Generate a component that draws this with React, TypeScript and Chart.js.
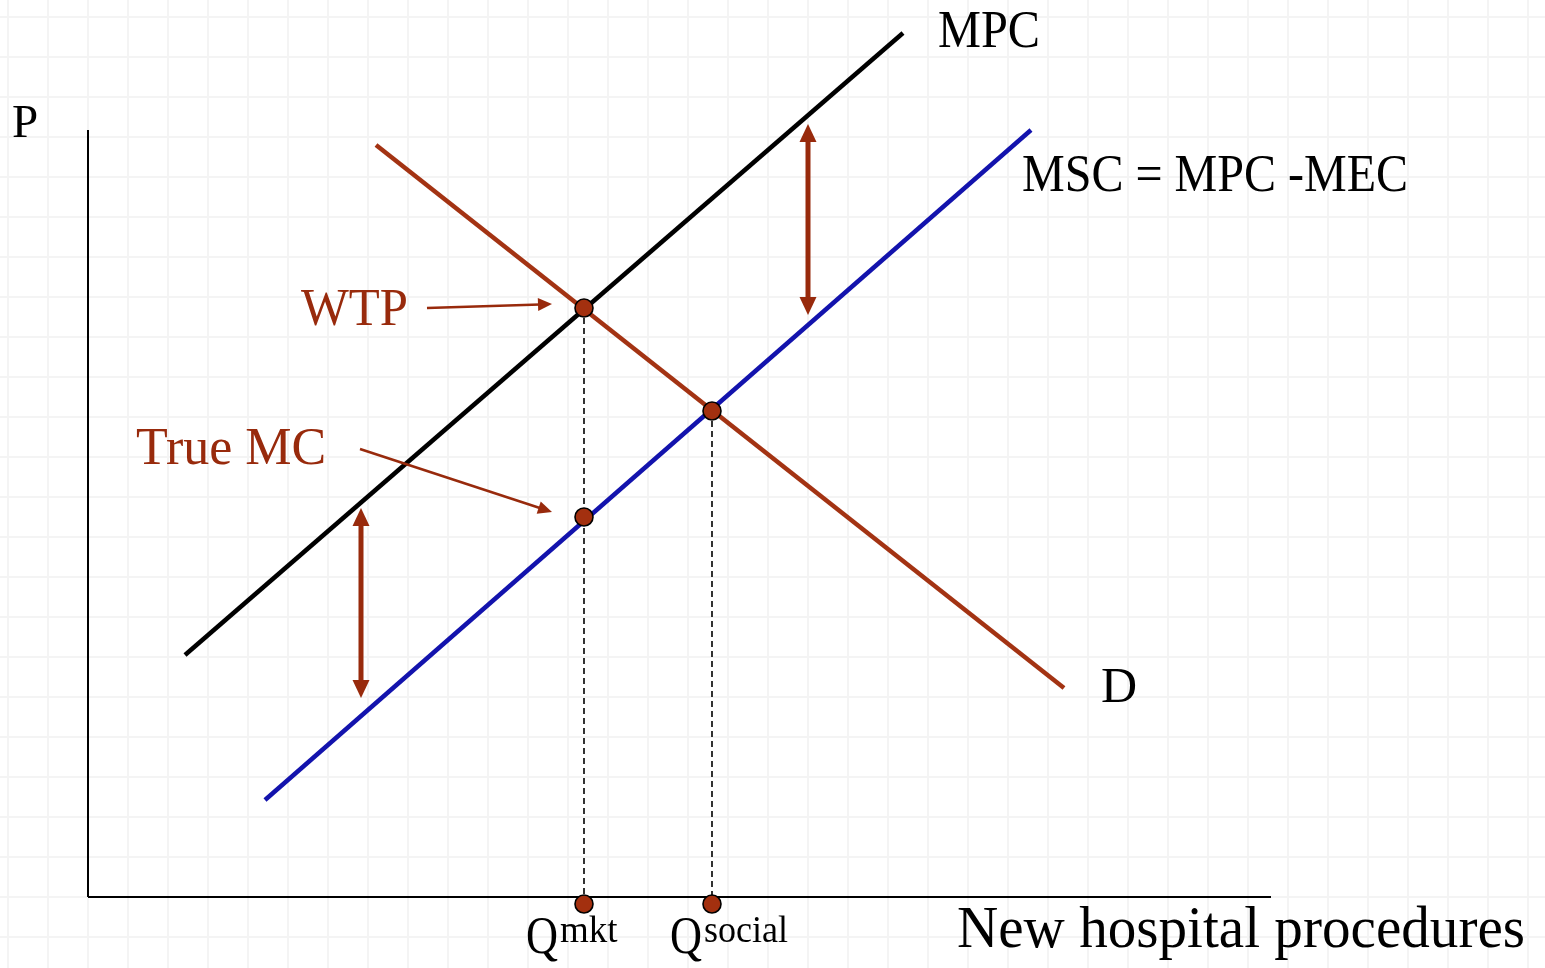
import React, { useEffect, useRef } from "react";
import { Chart, registerables } from "chart.js";

Chart.register(...registerables);

// ---- Data (grid units; origin at the axes' corner) ----
const mpcX = [2.425, 20.375];
const mpcY = [6.05, 21.6];
const mscX = [4.425, 23.575];
const mscY = [2.425, 19.175];
const demandX = [7.2, 24.4];
const demandY = [18.8, 5.225];

const Q_MKT = 12.4;
const Q_SOCIAL = 15.6;
const P_WTP = 14.725;
const P_SOCIAL = 12.15;
const P_TRUE_MC = 9.5;

const axisXMax = 29.575;
const axisYMax = 19.175;

// double-headed gap arrows: [x, yTop, yBottom]
const gapArrowLeft = [6.825, 9.725, 4.975];
const gapArrowRight = [18.0, 19.325, 14.55];

// pointer arrows: [x0, y0, x1, y1]
const wtpPointer = [8.475, 14.725, 11.6, 14.825];
const trueMcPointer = [6.8, 11.2, 11.6, 9.625];

const BROWN_LINE = "#A33313";
const BROWN = "#982A0C";
const BLUE = "#1313AD";
const FONT = "'Liberation Serif', 'Times New Roman', serif";

type Label = {
  text: string;
  x: number;
  y: number;
  size: number;
  color: string;
  maxWidth?: number;
};

const labels: Label[] = [
  { text: "P", x: -1.9, y: 19.0, size: 47, color: "#000" },
  { text: "MPC", x: 21.25, y: 21.25, size: 52, color: "#000", maxWidth: 102 },
  { text: "MSC = MPC -MEC", x: 23.35, y: 17.65, size: 52, color: "#000", maxWidth: 386 },
  { text: "WTP", x: 5.325, y: 14.3, size: 52, color: BROWN, maxWidth: 107 },
  { text: "True MC", x: 1.2, y: 10.825, size: 52, color: BROWN, maxWidth: 191 },
  { text: "D", x: 25.325, y: 4.875, size: 50, color: "#000" },
  { text: "Q", x: 10.95, y: -1.4, size: 52, color: "#000", maxWidth: 32 },
  { text: "mkt", x: 11.8, y: -1.125, size: 37, color: "#000", maxWidth: 60 },
  { text: "Q", x: 14.55, y: -1.4, size: 52, color: "#000", maxWidth: 32 },
  { text: "social", x: 15.4, y: -1.125, size: 37, color: "#000", maxWidth: 84 },
  { text: "New hospital procedures", x: 21.725, y: -1.25, size: 60, color: "#000", maxWidth: 568 },
];

const pts = (xs: number[], ys: number[]) => xs.map((x, i) => ({ x, y: ys[i] }));

function drawHead(ctx: CanvasRenderingContext2D, tx: number, ty: number, fx: number, fy: number, len: number, half: number) {
  const ang = Math.atan2(ty - fy, tx - fx);
  const bx = tx - Math.cos(ang) * len;
  const by = ty - Math.sin(ang) * len;
  const nx = -Math.sin(ang) * half;
  const ny = Math.cos(ang) * half;
  ctx.beginPath();
  ctx.moveTo(tx, ty);
  ctx.lineTo(bx + nx, by + ny);
  ctx.lineTo(bx - nx, by - ny);
  ctx.closePath();
  ctx.fill();
}

const annotationPlugin = {
  id: "econAnnotations",
  afterDatasetsDraw(chart: any) {
    const { ctx } = chart;
    const xs = chart.scales.x;
    const ys = chart.scales.y;
    const px = (v: number) => xs.getPixelForValue(v);
    const py = (v: number) => ys.getPixelForValue(v);
    ctx.save();

    // gap arrows
    [gapArrowLeft, gapArrowRight].forEach(([x, yt, yb]) => {
      const X = px(x);
      const T = py(yt);
      const B = py(yb);
      const len = 18;
      ctx.strokeStyle = BROWN;
      ctx.fillStyle = BROWN;
      ctx.lineWidth = 5;
      ctx.beginPath();
      ctx.moveTo(X, T + len - 1);
      ctx.lineTo(X, B - len + 1);
      ctx.stroke();
      drawHead(ctx, X, T, X, B, len, 8.5);
      drawHead(ctx, X, B, X, T, len, 8.5);
    });

    // pointer arrows
    [wtpPointer, trueMcPointer].forEach(([x0, y0, x1, y1]) => {
      const X0 = px(x0), Y0 = py(y0), X1 = px(x1), Y1 = py(y1);
      const ang = Math.atan2(Y1 - Y0, X1 - X0);
      const len = 14;
      ctx.strokeStyle = BROWN;
      ctx.fillStyle = BROWN;
      ctx.lineWidth = 2.5;
      ctx.beginPath();
      ctx.moveTo(X0, Y0);
      ctx.lineTo(X1 - Math.cos(ang) * (len - 2), Y1 - Math.sin(ang) * (len - 2));
      ctx.stroke();
      drawHead(ctx, X1, Y1, X0, Y0, len, 6.5);
    });

    // labels
    ctx.textAlign = "left";
    ctx.textBaseline = "alphabetic";
    labels.forEach((l) => {
      ctx.font = `${l.size}px ${FONT}`;
      ctx.fillStyle = l.color;
      if (l.maxWidth) ctx.fillText(l.text, px(l.x), py(l.y), l.maxWidth);
      else ctx.fillText(l.text, px(l.x), py(l.y));
    });
    ctx.restore();
  },
};

export default function App() {
  const ref = useRef<HTMLCanvasElement | null>(null);

  useEffect(() => {
    if (!ref.current) return;
    const lineDs = (data: any[], color: string, width: number, extra: any = {}) => ({
      type: "scatter" as const,
      data,
      showLine: true,
      borderColor: color,
      backgroundColor: color,
      borderWidth: width,
      pointRadius: 0,
      pointHoverRadius: 0,
      ...extra,
    });
    // Chart.js paints the first dataset on top, so the dots come first.
    const chart = new Chart(ref.current, {
      type: "scatter",
      data: {
        datasets: [
          {
            type: "scatter" as const,
            data: [
              { x: Q_MKT, y: P_WTP },
              { x: Q_SOCIAL, y: P_SOCIAL },
              { x: Q_MKT, y: P_TRUE_MC },
              { x: Q_MKT, y: -0.175 },
              { x: Q_SOCIAL, y: -0.175 },
            ],
            pointRadius: 9,
            pointHoverRadius: 9,
            pointBackgroundColor: "#A3300F",
            pointBorderColor: "#000",
            pointBorderWidth: 1.6,
            showLine: false,
          },
          lineDs(pts(demandX, demandY), BROWN_LINE, 4.5),
          lineDs(pts(mpcX, mpcY), "#000", 4.5),
          lineDs(pts(mscX, mscY), BLUE, 4.5),
          lineDs([{ x: Q_SOCIAL, y: P_SOCIAL }, { x: Q_SOCIAL, y: 0 }], "#000", 1.6, { borderDash: [6, 4] }),
          lineDs([{ x: Q_MKT, y: P_WTP }, { x: Q_MKT, y: 0 }], "#000", 1.6, { borderDash: [6, 4] }),
          lineDs([{ x: 0, y: 0 }, { x: axisXMax, y: 0 }], "#000", 2),
          lineDs([{ x: 0, y: 0 }, { x: 0, y: axisYMax }], "#000", 2),
        ],
      },
      options: {
        animation: false,
        responsive: false,
        events: [],
        layout: { padding: 0, autoPadding: false },
        plugins: { legend: { display: false }, tooltip: { enabled: false }, title: { display: false } },
        scales: {
          x: {
            type: "linear",
            min: -2.2,
            max: 36.425,
            border: { display: false },
            grid: { color: "#f4f4f4", lineWidth: 2, drawTicks: false },
            ticks: { display: false, stepSize: 1, maxTicksLimit: 200, includeBounds: false, autoSkip: false },
          },
          y: {
            type: "linear",
            min: -1.775,
            max: 22.425,
            border: { display: false },
            grid: { color: "#f4f4f4", lineWidth: 2, drawTicks: false },
            ticks: { display: false, stepSize: 1, maxTicksLimit: 200, includeBounds: false, autoSkip: false },
          },
        },
      },
      plugins: [annotationPlugin],
    });
    return () => chart.destroy();
  }, []);

  return (
    <canvas
      ref={ref}
      width={1545}
      height={968}
      style={{ position: "absolute", left: 0, top: 0, display: "block", background: "#fff" }}
    />
  );
}
